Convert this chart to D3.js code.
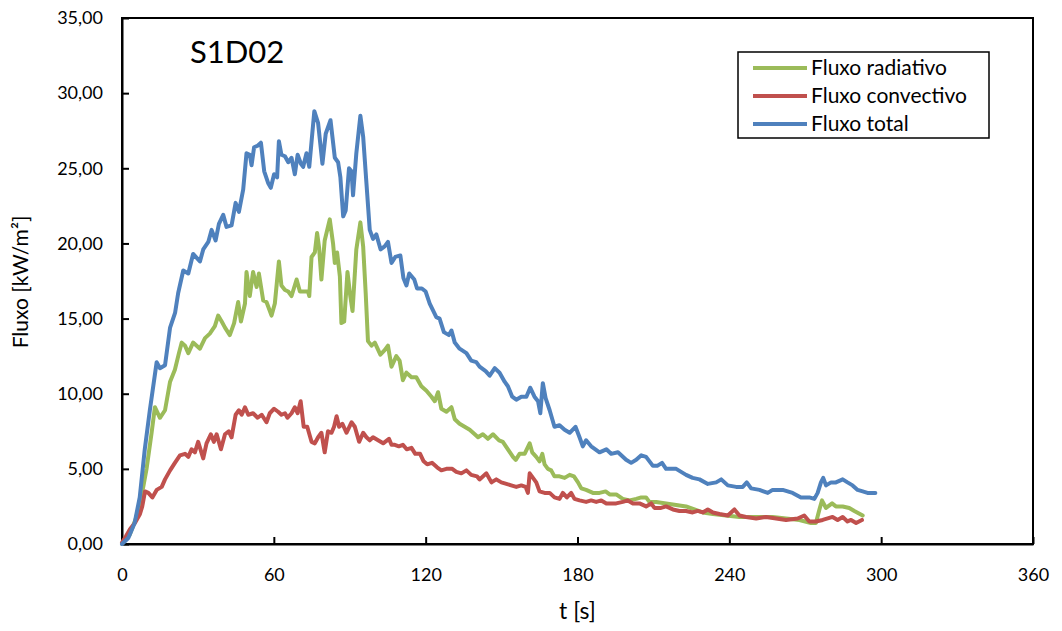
<!DOCTYPE html>
<html>
<head>
<meta charset="utf-8">
<script src="https://cdn.jsdelivr.net/npm/d3@7"></script>
<style>
  body { margin: 0; background: #fff; }
  text { font-family: Lato, "Open Sans", sans-serif; fill: #000; }
  .axis path, .axis line { stroke: #000; }
  .axis text { font-size: 18px; }
</style>
</head>
<body>
<svg id="chart"></svg>
<script>
// ---- data (t in s, flux in kW/m2) ----
var seriesNames = ["Fluxo radiativo", "Fluxo convectivo", "Fluxo total"];
var xTicks = [0, 60, 120, 180, 240, 300, 360];
var yTicks = [0, 5, 10, 15, 20, 25, 30, 35];

var tRad = [0,3,5.5,7,8.4,9.7,11.7,13,15,17,19,20.9,22.5,23.6,24.9,26.2,28.1,30.8,32.8,34.7,36.7,38,39.4,40.7,42.6,44.3,45.9,47,48.6,49.2,50.5,51.8,53.2,54.1,55.8,57.1,59.1,60.4,62,63,64.4,65.7,67,69,70.3,71.6,73.5,74,74.9,76.2,77.1,77.9,78.8,80.1,82.1,83.4,84.1,85,86.1,86.7,87.8,89.1,90.2,91.1,92.6,94.2,95.3,96.3,97.2,98.6,99.9,102.1,103.8,105.1,106.5,108.4,109.7,111,112.4,114.4,116.3,118.3,120.3,122.3,123.6,124.9,126.2,128.2,130.2,131.5,133.4,135.4,137.4,139.4,140.7,142.6,144.6,146.6,149,150.5,152.5,154.5,155.6,157.1,159.1,161.1,162.1,163.7,165,166.1,167,168.3,169.6,170.9,172.9,174.9,176.9,178.6,180.2,181.5,183.4,186.1,188.7,191.1,192.7,195.3,197.9,200.6,203.2,205.2,207.1,208.4,211.1,215,219,222.9,226.2,229.5,233.5,238.7,244,250.6,257.1,262.4,267.7,272.3,274.2,275.6,276.6,278.2,280.6,282.1,284.8,287.4,289.4,292.7];
var vRad = [0,0.6,1.7,2.7,3.8,5.0,7.4,9.1,8.4,8.9,10.8,11.6,12.7,13.4,13.2,12.7,13.4,13.0,13.7,14.0,14.5,15.2,14.8,14.4,13.9,14.7,16.1,14.8,16.0,18.1,16.5,18.1,17.1,18.0,16.2,16.1,15.2,16.0,18.8,17.2,16.9,16.8,16.5,17.6,16.8,16.8,16.8,16.5,19.1,19.4,20.7,19.7,17.6,20.2,21.6,20.0,18.7,19.4,17.8,14.7,14.8,18.1,16.5,15.5,19.6,21.4,19.8,16.7,13.5,13.2,13.4,12.6,12.9,13.2,11.8,12.5,12.2,10.9,11.4,11.1,11.1,10.5,10.2,9.8,9.5,10.1,9.0,8.8,9.1,8.3,8.0,7.8,7.6,7.3,7.1,7.3,7.0,7.3,6.9,6.8,6.3,5.8,5.6,6.0,6.0,6.7,6.1,5.8,5.5,6.0,5.3,5.0,4.9,4.5,4.5,4.4,4.6,4.5,4.1,3.7,3.6,3.4,3.4,3.5,3.3,3.3,3.0,2.9,3.0,3.1,3.1,2.8,2.8,2.7,2.6,2.5,2.3,2.1,2.0,1.9,1.8,1.8,1.8,1.7,1.6,1.4,1.4,2.3,2.9,2.4,2.7,2.5,2.5,2.4,2.2,1.9];

var tConv = [0,1.5,3.2,5.1,7.1,8,9.1,10.4,12,13.7,15.7,17,19,20.9,22.9,24.9,26.2,27.5,28.8,30.1,32.1,33.4,35.1,36.3,37.4,39.1,40.7,42.2,43.3,44.9,46.2,47.3,48.6,49.9,51.8,53.6,55.2,57.1,58.4,60.1,61.7,63,64.4,65.4,67,68.3,69.4,70.6,71.8,73.2,74.9,76.2,77.5,78.8,80.1,81.4,82.8,83.8,84.8,85.8,87.1,88.7,90.7,92,93.7,95.3,96.6,97.9,99.2,101.2,103.2,105.5,106.5,107.8,109.4,111,112.5,114.4,115.9,117.8,119.2,120.6,122.5,124.5,126.2,128.2,130.5,132.1,134.1,136.1,138,140.3,141.3,144,146,147.9,149.9,151.9,153.8,155.8,157.8,159.5,160.4,161.1,162.4,163.7,165,167,169,170.9,172.9,174.2,175.8,177.5,178.8,180.8,183.4,185.4,187.4,189.4,191.4,195.3,197.9,199.9,201.9,204.5,207.1,209.1,210.4,213,215,217.7,220.3,222.9,225.5,227.5,229.5,231.5,233.5,236.1,239.4,242,244,246.6,250.6,254.5,258.5,262.4,267,269.6,271.6,274.2,276.9,280.8,282.8,284.8,286.7,288.1,290.1,292.4];
var vConv = [0.1,0.5,1.0,1.4,2.0,2.5,3.5,3.4,3.1,3.6,3.8,4.3,4.9,5.4,5.9,6.0,5.8,6.3,6.1,6.8,5.7,6.7,7.3,6.8,7.3,6.3,7.3,7.5,7.1,8.6,8.9,8.6,9.1,8.6,8.7,8.4,8.6,8.1,8.7,9.0,8.8,8.6,8.7,8.4,8.7,9.1,8.7,9.5,7.8,7.8,6.8,6.7,7.1,7.4,6.1,7.5,7.4,7.8,8.5,7.8,8.0,7.4,8.1,7.8,6.8,7.4,7.1,6.9,7.1,6.9,6.7,7.0,6.6,6.6,6.5,6.6,6.3,6.4,6.0,6.0,5.5,5.3,5.4,5.1,4.9,5.0,5.0,4.8,4.7,4.9,4.6,4.5,4.3,4.7,4.1,4.3,4.1,4.0,3.9,3.8,3.9,3.8,3.4,4.7,4.4,4.1,3.5,3.4,3.4,3.1,3.0,3.4,3.1,3.4,3.0,2.9,2.8,2.9,2.8,2.9,2.7,2.7,2.8,2.9,2.7,2.7,2.5,2.7,2.4,2.4,2.5,2.3,2.2,2.2,2.1,2.2,2.1,2.3,2.1,2.0,1.9,2.3,1.9,1.8,1.7,1.8,1.7,1.6,1.7,1.9,1.5,1.5,1.6,1.8,1.6,1.8,1.5,1.6,1.4,1.6];

var tTot = [0,2.5,5,7,9,11,13.7,15,17,19,21,22.2,24.2,26.2,28.1,30.8,32.1,34.1,35.4,37,38.3,40,41.3,43.3,44.9,46.2,47.9,49.2,50.5,51.2,52.2,53.6,54.9,56.2,57.8,58.8,60.1,61.3,62,63,64.4,65.7,67,68.3,69.4,70.7,71.6,72.9,74,76,77.5,79.2,80.5,82.4,84.1,85.4,86.3,87.4,88.4,89.7,90.7,91.3,92.6,94.2,95.3,96.6,97.9,99.2,100.5,102.2,103.8,105.1,106.5,108,110,111.2,112.4,113.5,115.5,116.6,118.5,120,121.6,124.2,125.5,127.2,129.2,130.2,131.5,133.4,136.1,138,140,141.3,143.7,145.3,147.3,149.2,151.2,152.5,154.2,155.8,157.8,159.8,161.3,163,164.4,165.3,166.3,167.4,169,170.9,172.9,174.9,176.9,179.2,180.8,182.1,183.4,185.4,188.7,191.4,193.3,196,199.2,201.2,203.2,205.2,207.1,209.8,211.5,213.4,215,219,222.9,225.5,228.2,231.5,234.8,236.8,239.4,242.7,245.3,246.9,248.6,251.9,255.2,257.1,261.1,265,268.3,271.6,273.6,274.9,276.2,277.1,278.2,280.2,282.1,284.8,286.7,288.7,290.7,292.7,294.6,297.7];
var vTot = [0,0.4,1.4,3.1,6.3,8.9,12.1,11.7,11.9,14.4,15.4,16.7,18.2,18.0,19.3,18.8,19.6,20.1,20.9,20.2,21.3,21.9,21.1,21.2,22.7,22.1,23.6,26.0,25.9,25.2,26.4,26.5,26.7,24.8,24.0,23.7,24.6,24.4,26.8,25.9,25.8,25.4,25.7,24.6,25.9,25.3,25.1,26.0,25.1,28.8,28.0,25.3,27.3,28.2,25.7,25.4,24.4,21.8,22.2,25.0,24.8,23.2,26.0,28.5,27.1,24.0,20.9,20.3,20.6,19.6,19.8,20.1,18.7,19.1,19.2,17.7,17.2,18.0,17.6,17.0,17.0,16.8,16.0,15.1,15.0,14.1,13.9,14.2,13.4,13.0,12.7,12.2,12.1,11.8,11.5,11.2,11.7,11.4,10.8,10.5,9.8,9.6,9.8,9.8,10.4,9.8,9.5,8.7,10.7,9.7,8.9,7.8,7.9,7.6,7.4,7.8,7.1,6.5,6.9,6.5,6.1,6.3,6.0,6.1,5.6,5.4,5.6,5.9,5.8,5.2,5.2,5.4,5.0,5.0,4.6,4.4,4.3,4.0,4.1,4.3,3.9,3.8,3.8,4.1,3.7,3.6,3.4,3.6,3.6,3.4,3.1,3.1,3.0,3.4,4.1,4.4,3.9,4.1,4.1,4.3,4.1,3.9,3.6,3.5,3.4,3.4];

var seriesColors = ["#9BBB59", "#C0504D", "#4F81BD"];

var drawChart = function()
{
    var screen = {width:1062, height:631}
    var margins = {left:122, right:29, top:18, bottom:87}
    var graph = {
        width: screen.width - margins.left - margins.right,
        height: screen.height - margins.top - margins.bottom
    }

    var svg = d3.select("#chart")
        .attr("width", screen.width)
        .attr("height", screen.height)

    var xScale = d3.scaleLinear().domain([0, 360]).range([0, graph.width])
    var yScale = d3.scaleLinear().domain([0, 35]).range([graph.height, 0])

    var target = svg.append("g")
        .attr("transform", "translate(" + margins.left + "," + margins.top + ")")

    var ptLocale = d3.formatLocale({decimal:",", thousands:".", grouping:[3], currency:["", ""]})
    var fmt = ptLocale.format(".2f")

    // frame
    target.append("rect")
        .attr("width", graph.width)
        .attr("height", graph.height)
        .attr("fill", "none")
        .attr("stroke", "#000")
        .attr("stroke-width", 2)

    // axes, ticks pointing inward
    target.append("g")
        .attr("class", "axis")
        .attr("transform", "translate(0," + graph.height + ")")
        .call(d3.axisBottom(xScale).tickValues(xTicks).tickSizeInner(-7).tickSizeOuter(0).tickPadding(24))
        .call(function(g) { g.select(".domain").attr("stroke-width", 2) })
        .selectAll("line").attr("stroke-width", 2)

    target.append("g")
        .attr("class", "axis")
        .call(d3.axisLeft(yScale).tickValues(yTicks).tickFormat(fmt).tickSizeInner(-7).tickSizeOuter(0).tickPadding(19))
        .call(function(g) { g.select(".domain").attr("stroke-width", 2) })
        .selectAll("line").attr("stroke-width", 2)

    var line = d3.line()
        .x(function(d) { return xScale(d[0]) })
        .y(function(d) { return yScale(d[1]) })

    var series = [d3.zip(tRad, vRad), d3.zip(tConv, vConv), d3.zip(tTot, vTot)]

    target.selectAll(".series")
        .data(series)
        .enter()
        .append("path")
        .attr("class", "series")
        .attr("d", line)
        .attr("fill", "none")
        .attr("stroke", function(d, i) { return seriesColors[i] })
        .attr("stroke-width", 4)
        .attr("stroke-linejoin", "round")
        .attr("stroke-linecap", "round")

    // labels
    target.append("text")
        .text("S1D02")
        .attr("x", 68)
        .attr("y", 45)
        .style("font-size", "31px")

    svg.append("text")
        .text("t [s]")
        .attr("text-anchor", "middle")
        .attr("x", margins.left + graph.width / 2)
        .attr("y", 619)
        .style("font-size", "23px")

    svg.append("text")
        .text("Fluxo [kW/m²]")
        .attr("text-anchor", "middle")
        .attr("transform", "translate(28," + (margins.top + graph.height / 2 + 1) + ") rotate(-90)")
        .style("font-size", "21px")

    // legend
    var legend = svg.append("g")
        .attr("transform", "translate(738,52)")

    legend.append("rect")
        .attr("width", 251)
        .attr("height", 86)
        .attr("fill", "#fff")
        .attr("stroke", "#000")
        .attr("stroke-width", 1.5)

    var entries = legend.selectAll(".entry")
        .data(seriesNames)
        .enter()
        .append("g")
        .attr("class", "entry")
        .attr("transform", function(d, i) { return "translate(0," + (16 + i * 28) + ")" })

    entries.append("line")
        .attr("x1", 15).attr("x2", 69)
        .attr("y1", 0).attr("y2", 0)
        .attr("stroke", function(d, i) { return seriesColors[i] })
        .attr("stroke-width", 4)

    entries.append("text")
        .text(function(d) { return d })
        .attr("x", 73)
        .attr("y", 7)
        .style("font-size", "21px")
}

drawChart()
</script>
</body>
</html>
